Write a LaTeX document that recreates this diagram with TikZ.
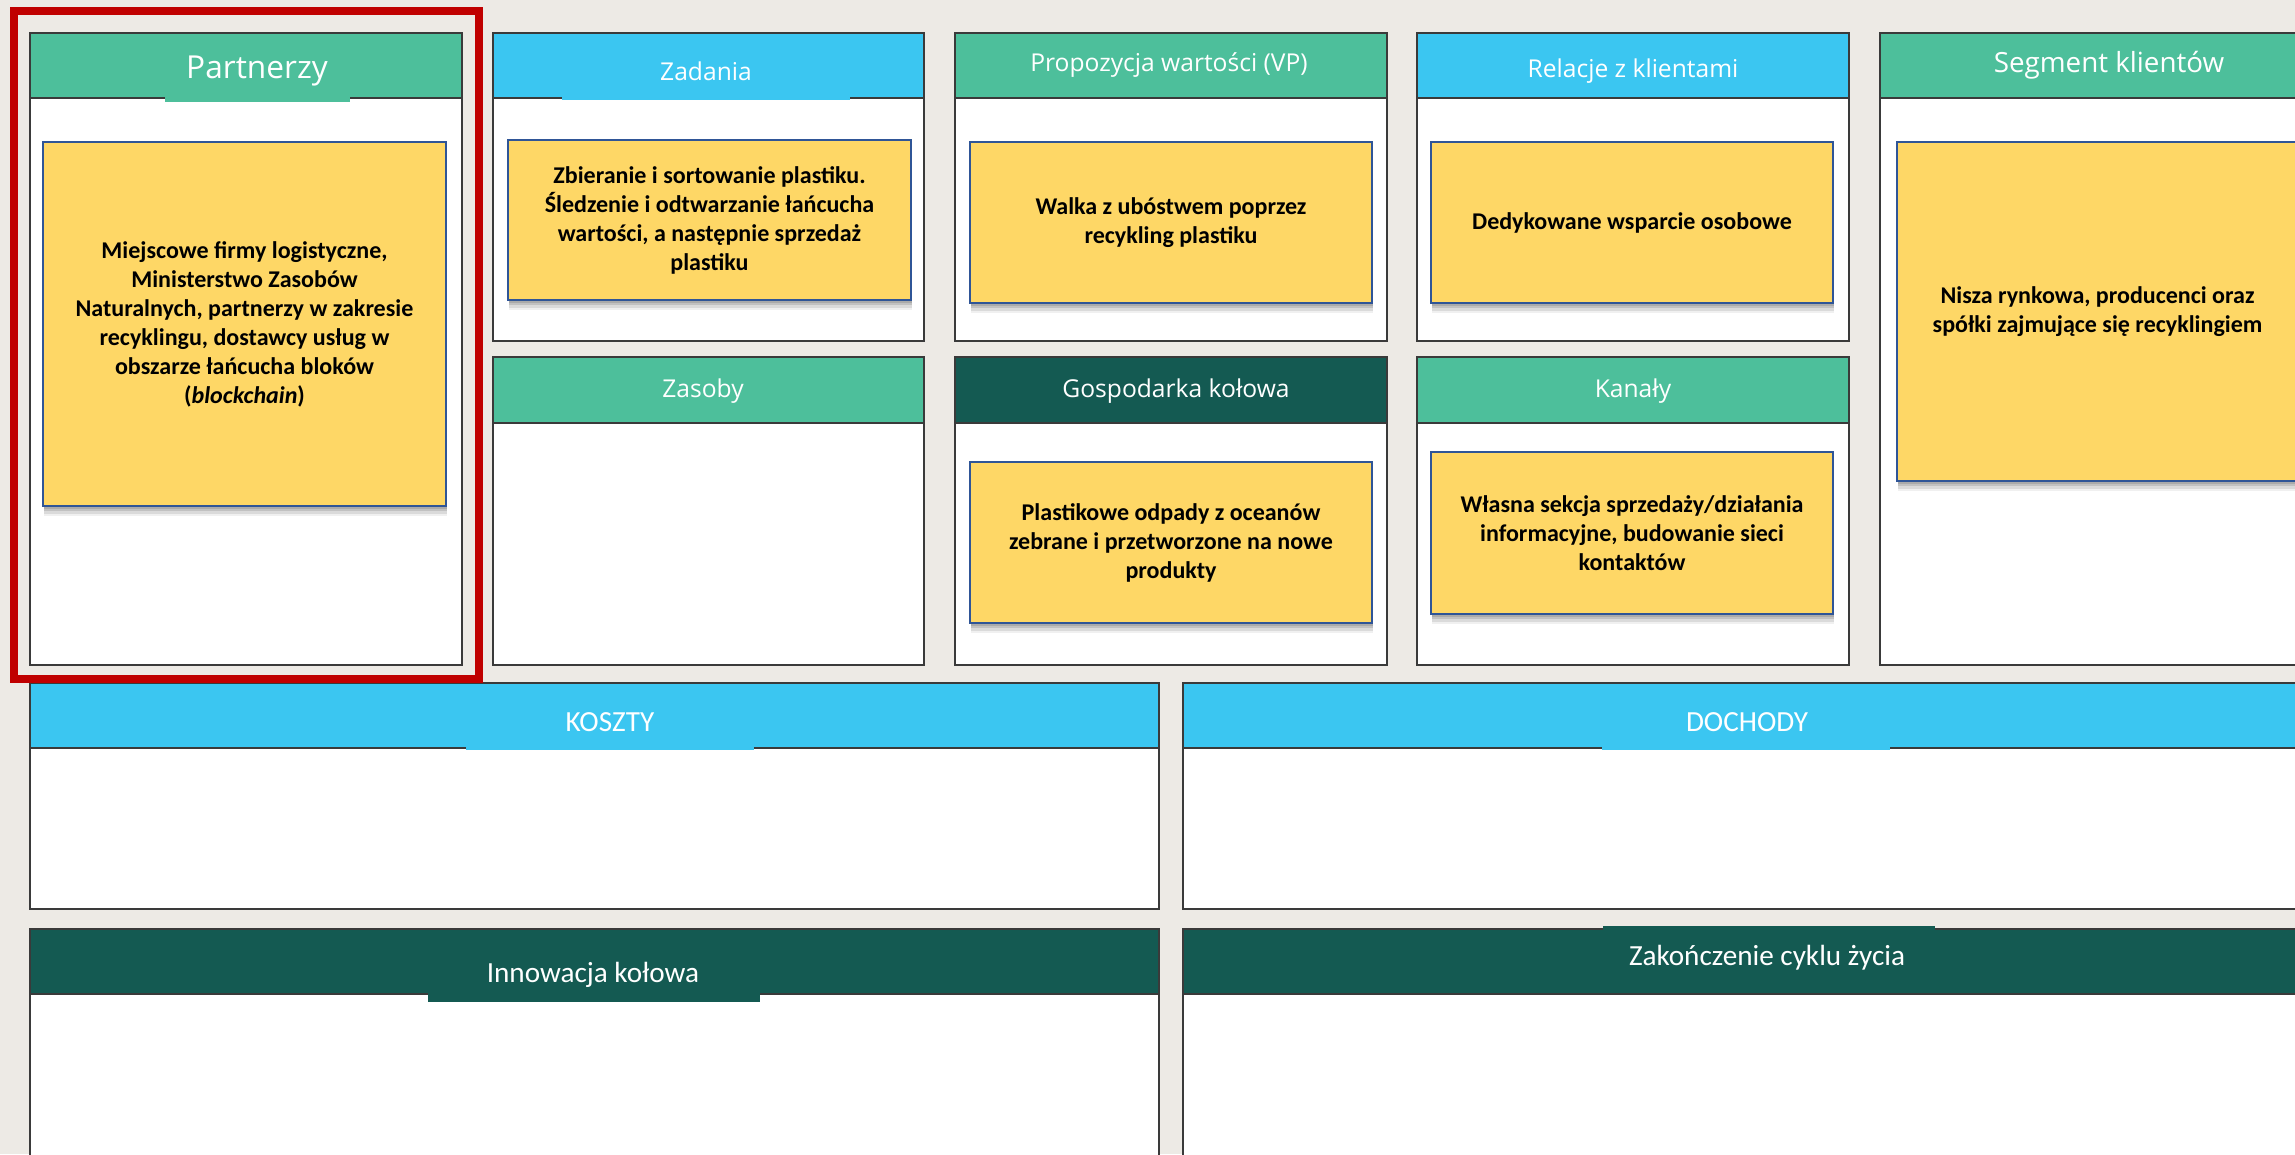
\documentclass[tikz,border=0pt]{standalone}
\usepackage{fontspec}
\setmainfont{Carlito}
\newfontfamily\headfont{Open Sans}
\usetikzlibrary{shadows}

\definecolor{paper}{HTML}{EDEAE5}
\definecolor{hgreen}{HTML}{4DBF9B}
\definecolor{hblue}{HTML}{3BC6F1}
\definecolor{hdark}{HTML}{145A52}
\definecolor{noteyellow}{HTML}{FED766}
\definecolor{noteblue}{HTML}{2F5597}
\definecolor{framered}{HTML}{C00000}
\definecolor{boxline}{HTML}{3A3A3A}

\begin{document}
\begin{tikzpicture}[x=0.01cm, y=-0.01cm,
    sep/.style={draw=boxline, line width=0.7pt},
    soft shadow/.style={
        drop shadow={shadow xshift=0.01cm, shadow yshift=-0.025cm, fill=black, opacity=0.12},
        drop shadow={shadow xshift=0.01cm, shadow yshift=-0.05cm, fill=black, opacity=0.11},
        drop shadow={shadow xshift=0.01cm, shadow yshift=-0.075cm, fill=black, opacity=0.09},
        drop shadow={shadow xshift=0.01cm, shadow yshift=-0.10cm, fill=black, opacity=0.06}},
    note/.style={fill=noteyellow, draw=noteblue, line width=0.65pt, inner sep=0pt,
        align=center, font=\fontsize{6.83}{8.25}\selectfont\bfseries, soft shadow},
    title/.style={text=white, inner sep=0pt, font=\headfont\fontsize{7}{8}\selectfont},
    lowtitle/.style={text=white, inner sep=0pt, font=\fontsize{8.3}{10}\selectfont}]

    \useasboundingbox (0,0) rectangle (2295,1154);
    \fill[paper] (0,0) rectangle (2295,1154);
    \clip (0,0) rectangle (2295,1154);

    % the twelve boxes: corners, header line, header colour
    \foreach \xa/\ya/\xb/\yb/\hy/\col in {30/33/462/665/98/hgreen, 493/33/924/341/98/hblue,
        493/357/924/665/423/hgreen, 955/33/1387/341/98/hgreen, 955/357/1387/665/423/hdark,
        1417/33/1849/341/98/hblue, 1417/357/1849/665/423/hgreen, 1880/33/2312/665/98/hgreen,
        30/683/1159/909/748/hblue, 1183/683/2312/909/748/hblue,
        30/929/1159/1170/994/hdark, 1183/929/2312/1170/994/hdark}
    {
        \fill[white] (\xa,\ya) rectangle (\xb,\yb);
        \fill[\col] (\xa,\ya) rectangle (\xb,\hy);
        \draw[sep] (\xa,\hy) -- (\xb,\hy);
        \draw[sep] (\xa,\ya) rectangle (\xb,\yb);
    }

    % tabs over the header lines
    \fill[hgreen] (165,96) rectangle (350,102);
    \fill[hblue] (562,96) rectangle (850,100);
    \fill[hblue] (466,746) rectangle (754,750);
    \fill[hblue] (1602,746) rectangle (1890,750);
    \fill[hdark] (428,992) rectangle (760,1002);
    \fill[hdark] (1603,926) rectangle (1935,932);

    % red frame round Partnerzy
    \draw[framered, line width=0.08cm] (14,11) rectangle (479,679);

    % titles
    \node[title, font=\headfont\fontsize{9}{10}\selectfont] (tPartn) at (257,71) {Partnerzy};
    \node[title] (tZad) at (706,71) {Zadania};
    \node[title] (tVP) at (1169,65) {Propozycja wartości (VP)};
    \node[title] (tRel) at (1633,71) {Relacje z klientami};
    \node[title, font=\headfont\fontsize{7.9}{9}\selectfont] (tSeg) at (2109,65) {Segment klientów};
    \node[title] (tZas) at (703,391) {Zasoby};
    \node[title] (tGosp) at (1176,391) {Gospodarka kołowa};
    \node[title] (tKan) at (1633,391) {Kanały};
    \node[lowtitle] (tKosz) at (610,722) {KOSZTY};
    \node[lowtitle] (tDoch) at (1747,722) {DOCHODY};
    \node[lowtitle] (tInnow) at (593,975) {Innowacja kołowa};
    \node[lowtitle] (tZak) at (1767,958) {Zakończenie cyklu życia};

    % notes
    \node[note, minimum width=4.03cm, minimum height=3.64cm] (nPartn) at (244.5,324)
        {Miejscowe firmy logistyczne,\\ Ministerstwo Zasobów\\ Naturalnych, partnerzy w zakresie\\
         recyklingu, dostawcy usług w\\ obszarze łańcucha bloków\\ (\textit{blockchain})};
    \node[note, minimum width=4.03cm, minimum height=1.60cm] (nZad) at (709.5,220)
        {Zbieranie i sortowanie plastiku.\\ Śledzenie i odtwarzanie łańcucha\\
         wartości, a następnie sprzedaż\\ plastiku};
    \node[note, minimum width=4.02cm, minimum height=1.61cm] (nVP) at (1171,222.5)
        {Walka z ubóstwem poprzez\\ recykling plastiku};
    \node[note, minimum width=4.02cm, minimum height=1.61cm] (nRel) at (1632,222.5)
        {Dedykowane wsparcie osobowe};
    \node[note, minimum width=4.02cm, minimum height=1.61cm] (nGosp) at (1171,542.5)
        {Plastikowe odpady z oceanów\\ zebrane i przetworzone na nowe\\ produkty};
    \node[note, minimum width=4.02cm, minimum height=1.62cm] (nKan) at (1632,533)
        {Własna sekcja sprzedaży/działania\\ informacyjne, budowanie sieci\\ kontaktów};
    \node[note, minimum width=4.01cm, minimum height=3.39cm] (nSeg) at (2097.5,311.5)
        {Nisza rynkowa, producenci oraz\\ spółki zajmujące się recyklingiem};

\end{tikzpicture}
\end{document}
